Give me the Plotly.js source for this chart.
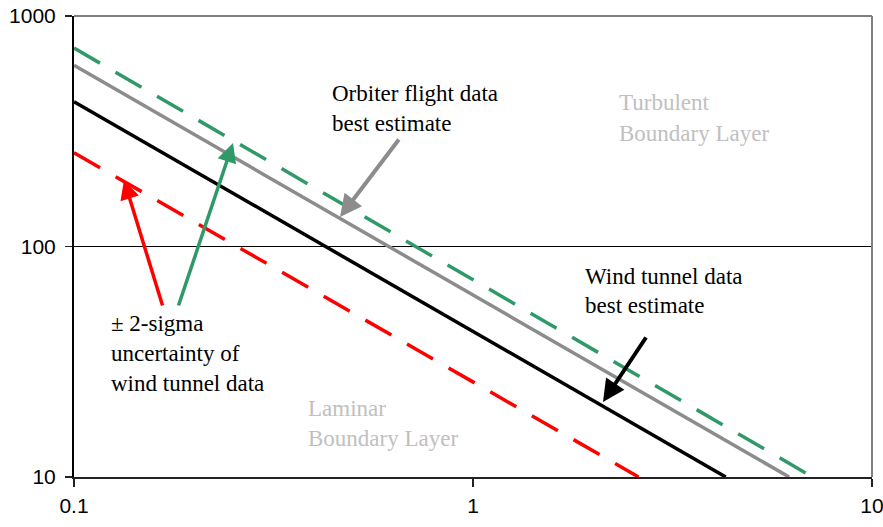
<!DOCTYPE html>
<html>
<head>
<meta charset="utf-8">
<script src="https://cdn.plot.ly/plotly-3.0.1.min.js"></script>
<style>html,body{margin:0;padding:0;background:#fff;}#chart{width:883px;height:527px;}</style>
</head>
<body>
<div id="chart"></div>
<script>
// Data
const greenX = [0.1, 7.1];   const greenY = [726, 10];   // +2 sigma wind tunnel
const grayX  = [0.1, 6.2];   const grayY  = [611, 10];   // Orbiter flight data best estimate
const blackX = [0.1, 4.3];   const blackY = [425, 10];   // Wind tunnel best estimate
const redX   = [0.1, 2.6];   const redY   = [255, 10];   // -2 sigma wind tunnel
const xTicks = [0.1, 1, 10];   const xTickText = ['0.1', '1', '10'];
const yTicks = [10, 100, 1000]; const yTickText = ['10', '100', '1000'];

const L = 74, R = 11, T = 16, B = 50, W = 883, H = 527;
const pw = W - L - R, ph = H - T - B;
const px = v => (v - L) / pw;
const py = v => (H - B - v) / ph;

const serif = 'Liberation Serif';
const sans = 'Liberation Sans';
function label(text, left, baseline, color) {
  return {xref: 'paper', yref: 'paper', x: px(left), y: py(baseline - 9), xanchor: 'left', yanchor: 'middle',
    text: text, showarrow: false, font: {family: serif, size: 23, color: color || '#000'}};
}
function arrow(hx, hy, tx, ty, color, w) {
  return {xref: 'paper', yref: 'paper', x: px(hx), y: py(hy), ax: tx - hx, ay: ty - hy, axref: 'pixel', ayref: 'pixel',
    text: '', showarrow: true, arrowhead: 2, arrowsize: 1.1, arrowwidth: w, arrowcolor: color, standoff: 0};
}

const traces = [
  {x: greenX, y: greenY, mode: 'lines', line: {color: '#2f9a68', width: 3.5, dash: '30px,18px'}},
  {x: grayX, y: grayY, mode: 'lines', line: {color: '#8c8c8c', width: 3.5}},
  {x: blackX, y: blackY, mode: 'lines', line: {color: '#000000', width: 3.5}},
  {x: redX, y: redY, mode: 'lines', line: {color: '#ff0000', width: 3.5, dash: '30px,18px'}}
];

const layout = {
  width: W, height: H,
  margin: {l: L, r: R, t: T, b: B, pad: 0},
  paper_bgcolor: '#fff', plot_bgcolor: '#fff',
  showlegend: false,
  xaxis: {type: 'log', range: [-1, 1], tickvals: xTicks, ticktext: xTickText, showgrid: false, zeroline: false,
    showline: true, linecolor: '#222', linewidth: 2, ticks: 'outside', ticklen: 8, tickwidth: 1.5, tickcolor: '#222',
    ticklabelstandoff: 1, ticklabeloverflow: 'allow',
    tickfont: {family: sans, size: 21, color: '#000'}, fixedrange: true},
  yaxis: {type: 'log', range: [1, 3], tickvals: yTicks, ticktext: yTickText, showgrid: true, gridcolor: '#000', gridwidth: 1,
    zeroline: false, showline: true, linecolor: '#000', linewidth: 2, ticks: 'outside', ticklen: 7, tickwidth: 1.5,
    tickcolor: '#222', ticklabelstandoff: 5, ticklabeloverflow: 'allow',
    tickfont: {family: sans, size: 21, color: '#000'}, fixedrange: true},
  shapes: [
    {type: 'line', xref: 'paper', yref: 'paper', x0: 0, x1: 1, y0: 1, y1: 1, line: {color: '#808080', width: 2}},
    {type: 'line', xref: 'paper', yref: 'paper', x0: 1, x1: 1, y0: 0, y1: 1, line: {color: '#808080', width: 2}}
  ],
  annotations: [
    label('Orbiter flight data', 330, 102), label('best estimate', 330, 132),
    label('± 2-sigma', 109, 332), label('uncertainty of', 109, 362), label('wind tunnel data', 109, 392),
    label('Wind tunnel data', 583, 285), label('best estimate', 583, 315),
    label('Turbulent', 617, 112, '#c0c0c0'), label('Boundary Layer', 617, 142, '#c0c0c0'),
    label('Laminar', 306, 417, '#c0c0c0'), label('Boundary Layer', 306, 447, '#c0c0c0'),
    arrow(340, 217, 400, 138, '#8c8c8c', 4),
    arrow(603, 402, 647, 336, '#000000', 4),
    arrow(233, 143, 178, 307, '#2f9a68', 3.5),
    arrow(124, 180, 163, 307, '#ff0000', 3.5)
  ]
};

Plotly.newPlot('chart', traces, layout, {displayModeBar: false, staticPlot: true});
</script>
</body>
</html>
